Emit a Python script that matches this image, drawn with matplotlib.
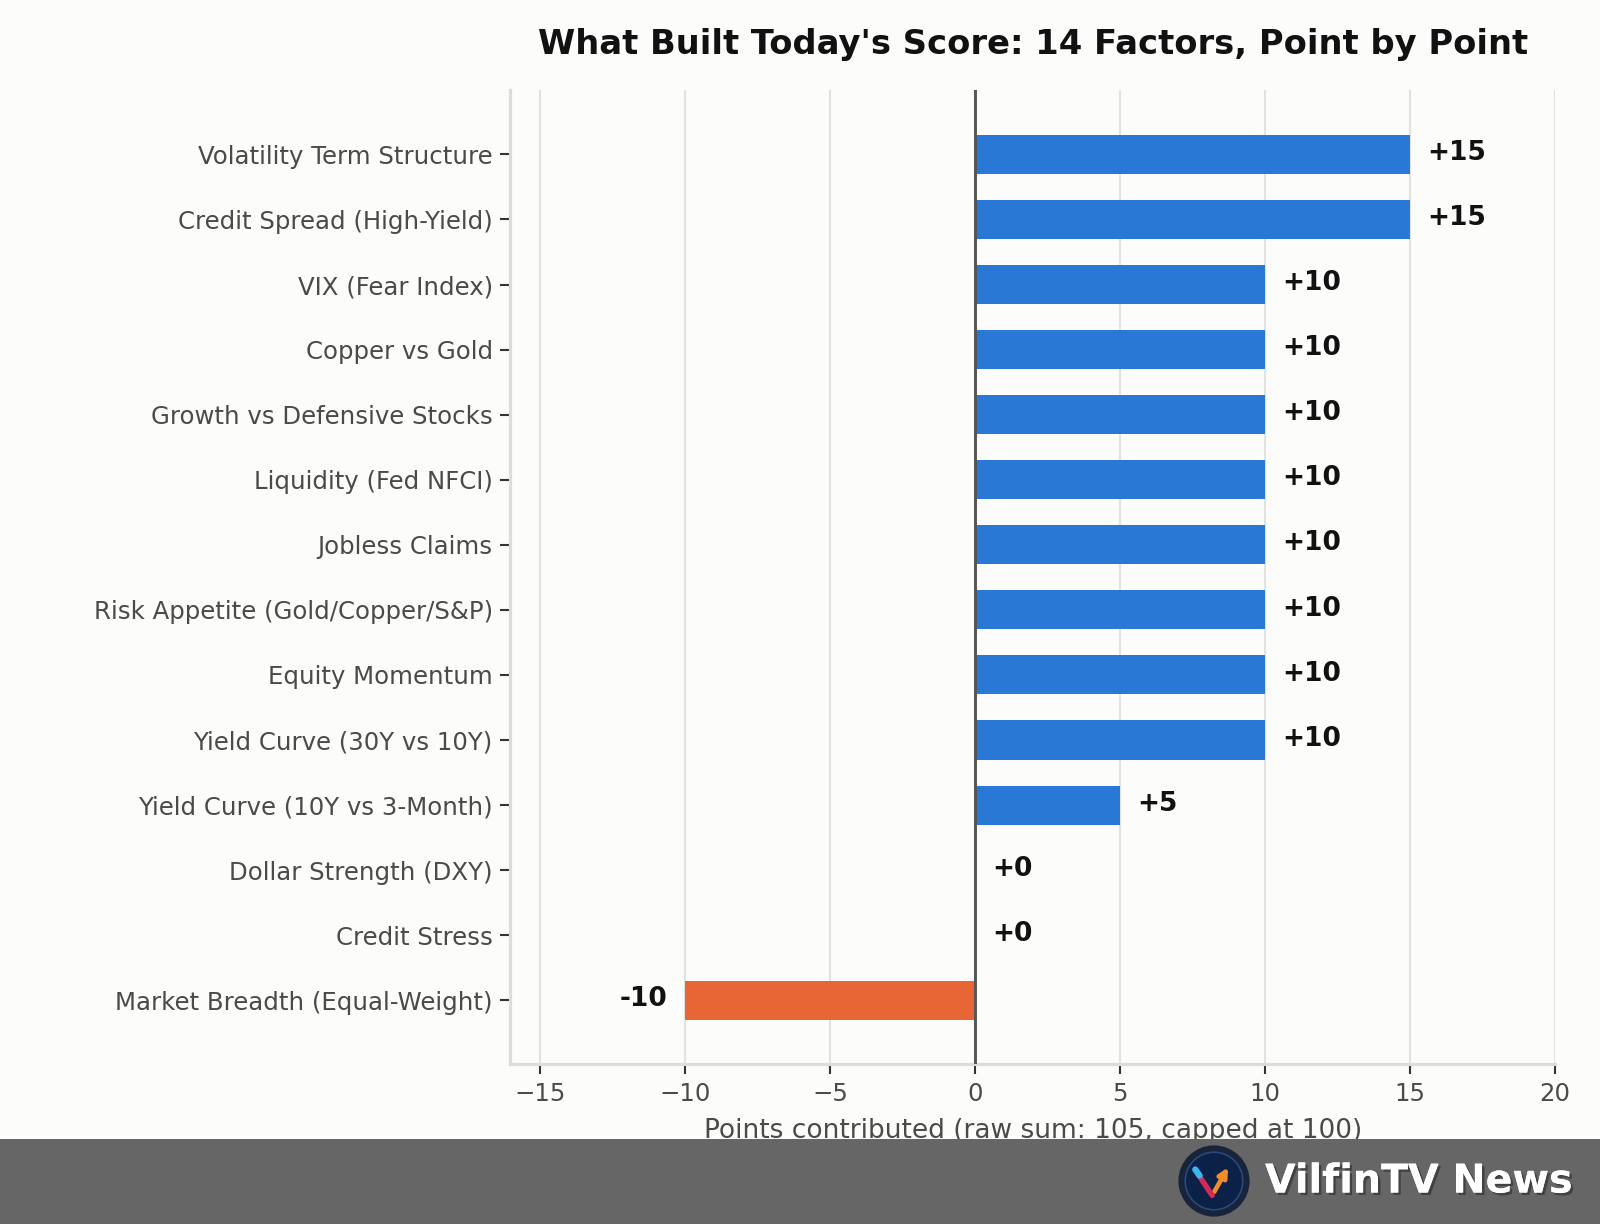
import matplotlib
matplotlib.use('Agg')
import matplotlib.pyplot as plt
import matplotlib.patheffects as pe
from matplotlib.patches import Circle, FancyArrowPatch

factors = [
    'Volatility Term Structure',
    'Credit Spread (High-Yield)',
    'VIX (Fear Index)',
    'Copper vs Gold',
    'Growth vs Defensive Stocks',
    'Liquidity (Fed NFCI)',
    'Jobless Claims',
    'Risk Appetite (Gold/Copper/S&P)',
    'Equity Momentum',
    'Yield Curve (30Y vs 10Y)',
    'Yield Curve (10Y vs 3-Month)',
    'Dollar Strength (DXY)',
    'Credit Stress',
    'Market Breadth (Equal-Weight)',
]
points = [15, 15, 10, 10, 10, 10, 10, 10, 10, 10, 5, 0, 0, -10]
xticks = [-15, -10, -5, 0, 5, 10, 15, 20]

BLUE = '#2a78d6'
ORANGE = '#e86635'
BG = '#fcfcfa'

fig = plt.figure(figsize=(1600 / 150, 1224 / 150), dpi=150, facecolor=BG)
ax = fig.add_axes([0.319, 0.1307, 0.653, 0.7958], facecolor=BG)

ypos = list(range(len(factors)))
colors = [ORANGE if v < 0 else BLUE for v in points]
ax.barh(ypos, points, height=0.6, color=colors, zorder=3)
ax.axvline(0, color='#555555', lw=1.4, zorder=4)

for y, v in zip(ypos, points):
    label = f'+{v}' if v >= 0 else f'{v}'
    if v >= 0:
        ax.text(v + 0.6, y - 0.02, label, ha='left', va='center', fontsize=12.7, fontweight='bold', color='#111111')
    else:
        ax.text(v - 0.6, y - 0.02, label, ha='right', va='center', fontsize=12.7, fontweight='bold', color='#111111')

ax.set_yticks(ypos)
ax.set_yticklabels(factors, fontsize=11.7, color='#4a4a4a')
ax.set_xticks(xticks)
ax.set_xticklabels([f'{t}'.replace('-', '\u2212') for t in xticks], fontsize=11.7, color='#4a4a4a')
ax.set_xlim(-16.03, 20)
ax.set_ylim(13.98, -0.99)
ax.grid(axis='x', color='#e2e2e2', lw=1.0, zorder=0)
ax.tick_params(axis='both', length=5, width=1, color='#333333')

for s in ['top', 'right']:
    ax.spines[s].set_visible(False)
for s in ['left', 'bottom']:
    ax.spines[s].set_color('#dcdcd8')
    ax.spines[s].set_linewidth(1.5)

ax.set_xlabel('Points contributed (raw sum: 105, capped at 100)', fontsize=12.7, color='#4a4a4a', labelpad=6)
ax.set_title("What Built Today's Score: 14 Factors, Point by Point", fontsize=16.2, fontweight='bold', color='#111111', pad=17.5)

# bottom banner
banner = fig.add_axes([0, 0, 1, 0.0694], facecolor='#666666')
banner.set_xticks([])
banner.set_yticks([])
for s in banner.spines.values():
    s.set_visible(False)
banner.text(1265 / 1600, 0.5, 'VilfinTV News', transform=banner.transAxes, ha='left', va='center',
            fontsize=19, fontweight='bold', color='white',
            path_effects=[pe.withSimplePatchShadow(offset=(1.2, -1.2), shadow_rgbFace='#333333', alpha=0.7), pe.Normal()])

# logo
lw_px = 72
logo = fig.add_axes([(1214 - lw_px / 2) / 1600, (1224 - 1181 - lw_px / 2) / 1224, lw_px / 1600, lw_px / 1224])
logo.set_xlim(-1, 1)
logo.set_ylim(-1, 1)
logo.axis('off')
logo.add_patch(Circle((0, 0), 0.96, color='#17243a'))
logo.add_patch(Circle((0, 0), 0.8, color='#0b2147'))
logo.add_patch(Circle((0, 0), 0.8, fill=False, ec='#2b4a78', lw=0.8))
logo.plot([-0.45, -0.05], [0.2, -0.4], color='#d42a56', lw=2.6, solid_capstyle='round')
logo.plot([-0.52, -0.4], [0.32, 0.15], color='#38b8f0', lw=3.0, solid_capstyle='round')
logo.add_patch(FancyArrowPatch((-0.05, -0.4), (0.45, 0.48), arrowstyle='-|>', mutation_scale=9,
                               color='#f28c28', lw=2.2))

fig.savefig('out.png', dpi=150, facecolor=BG)
